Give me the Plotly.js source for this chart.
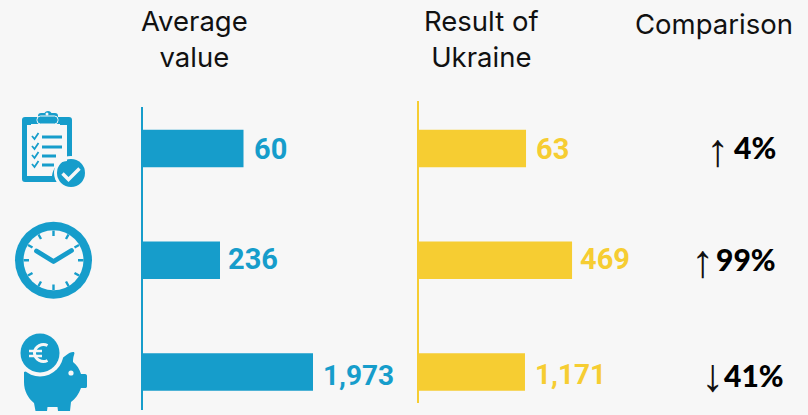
<!DOCTYPE html>
<html><head><meta charset="utf-8">
<script src="https://cdn.plot.ly/plotly-3.0.1.min.js"></script>
<style>html,body{margin:0;padding:0;background:#f7f7f7;overflow:hidden}</style>
</head><body><div id="chart" style="width:808px;height:415px"></div>
<script>
const averageValues = [60, 236, 1973];
const ukraineValues = [63, 469, 1171];
const directions = ['↑', '↑', '↓'];
const percents = ['4%', '99%', '41%'];
// each bar has its own scale in the original: the axis maximum of each panel
const averageAxisMax = [151.6, 773.7, 2971];
const ukraineAxisMax = [117.8, 615, 2211];
const headers = ['Average<br>value', 'Result of<br>Ukraine', 'Comparison'];

const BLUE = '#169dcb', YELLOW = '#f6cd32', BG = '#f7f7f7', W = 808, H = 415;
const FONT = 'Roboto, sans-serif';
const px = x => x / W, py = y => 1 - y / H;

const iconSvg = `<svg xmlns="http://www.w3.org/2000/svg" width="100" height="325" viewBox="0 90 100 325">
<g fill="${BLUE}">
<path d="M25 118h13v-1a3 3 0 0 1 3-3h3.500a4 4 0 0 1 7 0h3.500a3 3 0 0 1 3 3v1h11a3 3 0 0 1 3 3v62h-47a3 3 0 0 1-3-3v-59a3 3 0 0 1 3-3z" transform="translate(0,-1)"/>
<circle cx="71" cy="173" r="17" fill="${BG}"/>
<circle cx="71" cy="173" r="14"/>
<path d="M27 125h4v-1h29v1h7v36a16 16 0 0 0-15 15H27z" fill="${BG}"/>
<path d="M62.500 173.500l6 6 11-11" fill="none" stroke="${BG}" stroke-width="3.400"/>
<path d="M42 137h20M42 147h20M42 156h14M42 165h12" stroke="${BLUE}" stroke-width="3" fill="none"/>
<path d="M32 136l2.500 3 4-6M32 146l2.500 3 4-6M32 155l2.500 3 4-6M32 164l2.500 3 4-6" stroke="${BLUE}" stroke-width="1.800" fill="none"/>
<rect x="37" y="116" width="21" height="8" rx="3.500" stroke="${BG}" stroke-width="1"/>
<circle cx="47" cy="114" r="1.500" fill="${BG}"/>
<circle cx="53.500" cy="260.300" r="38.500"/>
<circle cx="53.500" cy="260.300" r="30" fill="${BG}"/>
<g stroke="${BLUE}" stroke-width="2.400" fill="none">
<path d="M53.500 230.500v5.500M53.500 284.500v5.500M23.500 260.300h5.500M78 260.300h5.500M38.500 234.500l2.500 4.500M66 281.500l2.500 4.500M28 245l4.500 2.500M74.500 273l4.500 2.500M28 275.500l4.500-2.500M74.500 247.500l4.500-2.500M38.500 286l2.500-4.500M66 239l2.500-4.500"/>
</g>
<path d="M36.500 251l17 10.500 18-11" fill="none" stroke="${BLUE}" stroke-width="4.800" stroke-linecap="round" stroke-linejoin="round"/>
<path d="M24 372L60 360C64 357 69 352 73 352C75 352 74.500 354 74 355C73 358 73 360 73 362C77 365 79.500 369 81 374H85C86.500 374 87 375 87 376V386C87 387.500 86.500 388 85 388H81C79 394 75 399 71 402L70 411H58L57.500 407H47.500L47 411H35.500L34 403C28 398 24 391 24 382Z"/>
<circle cx="40" cy="353" r="23.500" fill="${BG}"/>
<circle cx="40" cy="353" r="19.500"/>
<circle cx="71" cy="373" r="2.600" fill="${BG}"/>
<path d="M47.500 345.500a9 9 0 0 0-13 7v1a9 9 0 0 0 13 7" fill="none" stroke="${BG}" stroke-width="3"/>
<path d="M29 351h13M29 356h13" stroke="${BG}" stroke-width="2.400"/>
</g></svg>`;

const traces = [], annotations = [], layout = {};
function panel(values, axisMax, color, start, left, right, shifts, yshifts) {
  values.forEach((v, i) => {
    const n = start + i, id = n === 1 ? '' : n;
    traces.push({type: 'bar', orientation: 'h', x: [v], y: [i], width: 0.336,
      xaxis: 'x' + id, yaxis: 'y', marker: {color: color, line: {width: 0}}, hoverinfo: 'skip'});
    const ax = {domain: [px(left), px(right)], range: [0, axisMax[i]], visible: false, anchor: 'y', fixedrange: true};
    if (i > 0) ax.overlaying = start === 1 ? 'x' : 'x' + start;
    layout['xaxis' + id] = ax;
    annotations.push({xref: 'x' + id, yref: 'y', x: v, y: i, text: v.toLocaleString('en-US'),
      showarrow: false, xanchor: 'left', yanchor: 'middle', xshift: shifts[i], yshift: yshifts[i],
      font: {family: FONT, size: i === 2 ? 28 : 29, color: color, weight: 700}});
  });
}
panel(averageValues, averageAxisMax, BLUE, 1, 141, 400, [8, 6, 8], [0, 1, -3]);
panel(ukraineValues, ukraineAxisMax, YELLOW, 4, 418, 620, [8, 6, 8], [0, 1, -2]);

const headerX = [194, 481, 714], headerY = [39.5, 39.5, 24];
headers.forEach((t, c) => annotations.push({
  xref: 'paper', yref: 'paper', x: px(headerX[c]), y: py(headerY[c]), text: t, showarrow: false,
  xanchor: 'center', yanchor: 'middle', align: 'center',
  font: {family: 'Inter, sans-serif', size: 27.5, color: '#111', weight: 400}}));

const pctRight = [778, 778, 786], arrowX = [717, 702, 712], compShift = [2, 1, -3], arrowY = [-1, -1, -3];
percents.forEach((p, i) => {
  annotations.push({xref: 'paper', yref: 'y', x: px(pctRight[i]), y: i, yshift: compShift[i], showarrow: false,
    xanchor: 'right', yanchor: 'middle', text: p, font: {family: 'Lato, sans-serif', size: 30, color: '#000', weight: 900}});
  annotations.push({xref: 'paper', yref: 'y', x: px(arrowX[i]), y: i, yshift: arrowY[i], showarrow: false,
    xanchor: 'center', yanchor: 'middle', text: directions[i], font: {family: 'Liberation Sans, sans-serif', size: 46, color: '#111'}});
});

Object.assign(layout, {
  width: W, height: H, margin: {l: 0, r: 0, t: 0, b: 0}, showlegend: false,
  paper_bgcolor: BG, plot_bgcolor: 'rgba(0,0,0,0)',
  yaxis: {domain: [py(410), py(101)], range: [2.34, -0.425], visible: false, fixedrange: true, anchor: 'x'},
  annotations: annotations,
  shapes: [
    {type: 'line', xref: 'paper', yref: 'paper', x0: px(142), x1: px(142), y0: py(107), y1: py(410), line: {color: BLUE, width: 2}},
    {type: 'line', xref: 'paper', yref: 'paper', x0: px(418), x1: px(418), y0: py(101), y1: py(403), line: {color: YELLOW, width: 2}}
  ],
  images: [{source: 'data:image/svg+xml;charset=utf-8,' + encodeURIComponent(iconSvg),
    xref: 'paper', yref: 'paper', x: 0, y: py(90), sizex: 100 / W, sizey: 325 / H,
    xanchor: 'left', yanchor: 'top', sizing: 'stretch', layer: 'above'}]
});
Plotly.newPlot('chart', traces, layout, {displayModeBar: false, staticPlot: true});
</script></body></html>
